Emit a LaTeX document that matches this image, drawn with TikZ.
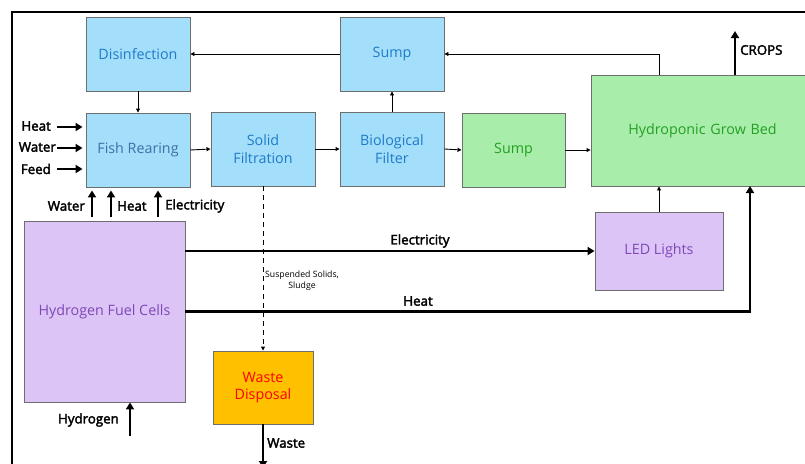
\documentclass[tikz,border=0pt]{standalone}
\usepackage{fontspec}
\setmainfont{Open Sans}
\newfontfamily\semibfont[FakeBold=2.5]{Open Sans}
\usetikzlibrary{arrows.meta}
\definecolor{bluefill}{HTML}{A3DFFA}
\definecolor{bluetext}{HTML}{1F7AC9}
\definecolor{fishtext}{HTML}{3E6FA8}
\definecolor{greenfill}{HTML}{A9EDAA}
\definecolor{greentext}{HTML}{23A023}
\definecolor{purplefill}{HTML}{DDC4F6}
\definecolor{purpletext}{HTML}{7E48B6}
\definecolor{orangefill}{HTML}{FFC000}
\definecolor{boxline}{HTML}{6E6E6E}
\tikzset{
  boxbase/.style={draw=boxline, line width=0.9pt, inner sep=0pt, align=center, font=\fontsize{14.3}{17.5}\selectfont},
  bluebox/.style={boxbase, fill=bluefill, text=bluetext},
  greenbox/.style={boxbase, fill=greenfill, text=greentext},
  purplebox/.style={boxbase, fill=purplefill, text=purpletext},
  orangebox/.style={boxbase, fill=orangefill, text=red},
  thinarrow/.style={line width=0.9pt, -{Triangle[length=4pt,width=4pt]}},
  thickarrow/.style={line width=2.4pt, -{Triangle[length=7pt,width=8pt]}},
  lbl/.style={font=\semibfont\fontsize{13.3}{15}\selectfont, inner sep=0pt, text=black},
  smalllbl/.style={font=\fontsize{8.7}{11}\selectfont, inner sep=0pt, align=center}
}
\begin{document}
\begin{tikzpicture}[x=1pt,y=-1pt]
\useasboundingbox (0,0) rectangle (805,463);
\draw[line width=1.6pt] (12,470) -- (12,12) -- (810,12);

% boxes
\node[bluebox, minimum width=104pt, minimum height=74pt] (dis) at (138,54) {Disinfection};
\node[bluebox, text=fishtext, minimum width=104pt, minimum height=74pt] (fish) at (138,150) {Fish Rearing};
\node[bluebox, minimum width=104pt, minimum height=74pt] (solid) at (263,149) {Solid\\Filtration};
\node[bluebox, minimum width=104pt, minimum height=74pt] (sumpT) at (392,54) {Sump};
\node[bluebox, minimum width=104pt, minimum height=74pt] (bio) at (392,149) {Biological\\Filter};
\node[greenbox, minimum width=103pt, minimum height=74pt] (sumpG) at (513.5,150) {Sump};
\node[greenbox, minimum width=215pt, minimum height=111pt, text width=215pt] (hydro) at (698.5,130.5) {\hspace*{8pt}Hydroponic Grow Bed};
\node[purplebox, minimum width=128pt, minimum height=78pt] (led) at (659,251) {LED Lights};
\node[purplebox, minimum width=161pt, minimum height=181pt] (fuel) at (104.5,311.5) {Hydrogen Fuel Cells};
\node[orangebox, minimum width=100pt, minimum height=73pt] (waste) at (263,387.5) {Waste\\Disposal};

% thin flow arrows
\draw[thinarrow] (sumpT.west) -- (dis.east);
\draw[thinarrow] (led.north |- hydro.north) -- (led.north |- sumpT.east) -- (sumpT.east);
\draw[thinarrow] (dis.south) -- (fish.north);
\draw[thinarrow] (fish.east) -- (solid.west);
\draw[thinarrow] (solid.east) -- (bio.west);
\draw[thinarrow] (bio.north) -- (sumpT.south);
\draw[thinarrow] (bio.east) -- (sumpG.west);
\draw[thinarrow] (sumpG.east) -- (hydro.west |- sumpG.east);
\draw[thinarrow] (led.north) -- (led.north |- hydro.south);
\draw[thinarrow, dashed, dash pattern=on 5pt off 4pt] (solid.south) -- (waste.north);

% thick arrows
\draw[thickarrow] (led.west -| fuel.east) -- (led.west);
\coordinate (hbed) at (750,186);
\draw[thickarrow] (fuel.east) -| (hbed);
\coordinate (wout) at (263,468);
\draw[thickarrow] (waste.south) -- (wout);
\coordinate (hin) at (130,436);
\draw[thickarrow] (hin) -- (hin |- fuel.south);
\coordinate (crops) at (735,31);
\draw[thickarrow] (crops |- hydro.north) -- (crops);

% left inputs
\coordinate (inA) at (57,127);
\coordinate (inB) at (57,148);
\coordinate (inC) at (57,169);
\draw[thickarrow, line width=2pt, shorten >=3pt] (inA) -- (inA -| fish.west);
\draw[thickarrow, line width=2pt, shorten >=3pt] (inB) -- (inB -| fish.west);
\draw[thickarrow, line width=2pt, shorten >=3pt] (inC) -- (inC -| fish.west);
\node[lbl, anchor=east] (lheat) at (51,126) {Heat};
\node[lbl, anchor=east] (lwater) at (56,147) {Water};
\node[lbl, anchor=east] (lfeed) at (51,169) {Feed};

% bottom inputs
\coordinate (bA) at (92,217);
\coordinate (bB) at (111,217);
\coordinate (bC) at (158,217);
\draw[thickarrow, line width=2pt, shorten >=3pt] (bA) -- (bA |- fish.south);
\draw[thickarrow, line width=2pt, shorten >=3pt] (bB) -- (bB |- fish.south);
\draw[thickarrow, line width=2pt, shorten >=3pt] (bC) -- (bC |- fish.south);
\node[lbl, anchor=east] (bwater) at (85,206) {Water};
\node[lbl, anchor=west] (bheat) at (117,206) {Heat};
\node[lbl, anchor=west] (belec) at (165,206) {Electricity};

% other labels
\node[lbl] (lelec) at (420,241) {Electricity};
\node[lbl] (lheat2) at (418,301) {Heat};
\node[lbl, anchor=east] (lhyd) at (119,420) {Hydrogen};
\node[lbl, anchor=west] (lwaste) at (267,443) {Waste};
\node[lbl, anchor=west] (lcrops) at (740,50) {CROPS};
\node[smalllbl] (lsus) at (302,281) {Suspended Solids,\\Sludge};
\end{tikzpicture}
\end{document}
